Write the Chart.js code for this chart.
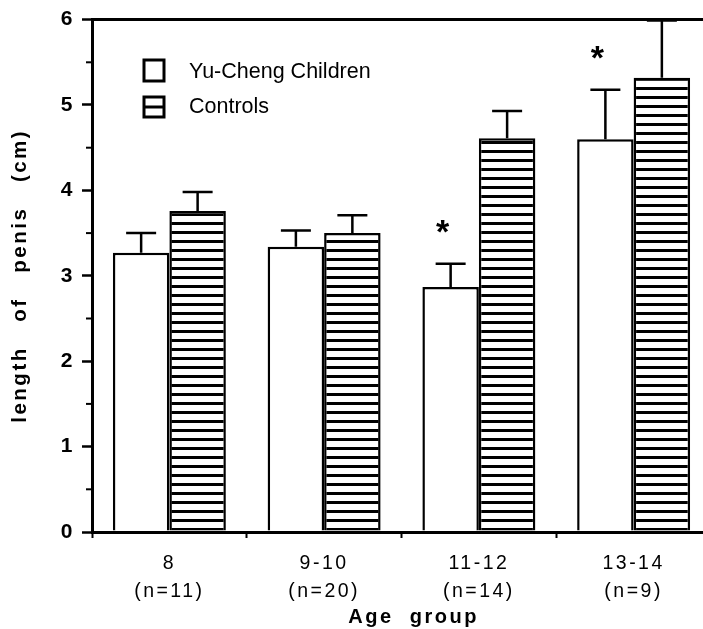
<!DOCTYPE html>
<html>
<head>
<meta charset="utf-8">
<script src="https://cdn.jsdelivr.net/npm/chart.js@4"></script>
<style>
  html, body { margin:0; padding:0; background:#fff; overflow:hidden; }
  canvas { display:block; }
</style>
</head>
<body>
<canvas id="penis" width="712" height="629"></canvas>
<script>
const groups = [['8', '(n=11)'], ['9-10', '(n=20)'], ['11-12', '(n=14)'], ['13-14', '(n=9)']];
const yuChengMeans = [3.27, 3.34, 2.87, 4.6];
const yuChengErr = [0.23, 0.19, 0.27, 0.58];
const controlMeans = [3.76, 3.5, 4.61, 5.32];
const controlErr = [0.22, 0.21, 0.32, 0.67];
const significant = [false, false, true, true];

// horizontal stripe fill
const stripe = document.createElement('canvas');
stripe.width = 8; stripe.height = 9;
const sctx = stripe.getContext('2d');
sctx.fillStyle = '#fff'; sctx.fillRect(0, 0, 8, 9);
sctx.fillStyle = '#000'; sctx.fillRect(0, 6, 8, 3);
const hatch = sctx.createPattern(stripe, 'repeat');

const errors = [yuChengErr, controlErr];

const extras = {
    id:'extras',
    beforeDraw(chart){
        chart.ctx.letterSpacing = '2.5px';
    },
    afterDatasetsDraw(chart){
        const ctx = chart.ctx;
        const y = chart.scales.y;
        ctx.save();
        ctx.letterSpacing = '0px';
        ctx.strokeStyle = '#000';
        ctx.lineWidth = 2.5;
        chart.data.datasets.forEach((ds, i) => {
            chart.getDatasetMeta(i).data.forEach((bar, j) => {
                const top = y.getPixelForValue(ds.data[j] + errors[i][j]);
                ctx.beginPath();
                ctx.moveTo(bar.x, bar.y);
                ctx.lineTo(bar.x, top);
                ctx.moveTo(bar.x - 15, top);
                ctx.lineTo(bar.x + 15, top);
                ctx.stroke();
                if (i === 0 && significant[j]) {
                    ctx.fillStyle = '#000';
                    ctx.font = 'bold 34px "Liberation Sans", Arial';
                    ctx.textAlign = 'center';
                    ctx.textBaseline = 'middle';
                    ctx.fillText('*', bar.x - 8, top - 30);
                }
            });
        });
        // minor ticks on y
        ctx.lineWidth = 2;
        for (let v = 0.5; v < 6; v += 1) {
            const py = y.getPixelForValue(v);
            ctx.beginPath();
            ctx.moveTo(chart.chartArea.left - 6, py);
            ctx.lineTo(chart.chartArea.left, py);
            ctx.stroke();
        }
        // legend
        ctx.lineWidth = 3;
        ctx.fillStyle = '#fff';
        ctx.fillRect(144, 60, 20, 21);
        ctx.strokeRect(144, 60, 20, 21);
        ctx.strokeRect(144, 97, 20, 20);
        ctx.beginPath();
        ctx.moveTo(144, 107); ctx.lineTo(164, 107);
        ctx.stroke();
        ctx.fillStyle = '#000';
        ctx.font = '21.5px "Liberation Sans", Arial';
        ctx.textAlign = 'left';
        ctx.textBaseline = 'middle';
        ctx.fillText('Yu-Cheng Children', 189, 72);
        ctx.fillText('Controls', 189, 107);
        ctx.restore();
    }
};

new Chart(document.getElementById('penis'), {
    type:'bar',
    data:{
        labels:groups,
        datasets:[{
            label:'Yu-Cheng Children',
            data:yuChengMeans,
            backgroundColor:'#fff',
            borderColor:'#000',
            borderWidth:2.5
        },{
            label:'Controls',
            data:controlMeans,
            backgroundColor:hatch,
            borderColor:'#000',
            borderWidth:2.5
        }]
    },
    options:{
        responsive:false,
        animation:false,
        categoryPercentage:0.73,
        barPercentage:1,
        layout:{padding:{top:19, right:1, bottom:0, left:0}},
        scales:{
            x:{
                grid:{offset:true, drawOnChartArea:false, tickLength:6, tickColor:'#000', tickWidth:2},
                border:{color:'#000', width:3},
                ticks:{color:'#000', font:{family:'"Liberation Sans", Arial', size:19.5, lineHeight:1.45}, padding:11, maxRotation:0},
                title:{display:true, text:'   Age  group', color:'#000',
                    font:{family:'"Liberation Sans", Arial', size:20, weight:'bold'}, padding:{top:0, bottom:0}},
                afterFit(s){ s.height = 97; }
            },
            y:{
                min:0, max:6,
                ticks:{stepSize:1, color:'#000', padding:7,
                    font:{family:'"Liberation Sans", Arial', size:21, weight:'bold'}},
                grid:{
                    drawOnChartArea:true,
                    color:(c) => c.tick && c.tick.value === 6 ? '#000' : 'rgba(0,0,0,0)',
                    lineWidth:3,
                    tickColor:'#000', tickWidth:2.5, tickLength:10
                },
                border:{color:'#000', width:3},
                title:{display:true, text:'length   of   penis   (cm)', color:'#000',
                    font:{family:'"Liberation Sans", Arial', size:20.5, weight:'bold'}, padding:{top:8, bottom:0}},
                afterFit(s){ s.width = 92; }
            }
        },
        plugins:{
            legend:{display:false},
            tooltip:{enabled:false}
        }
    },
    plugins:[extras]
});
</script>
</body>
</html>
